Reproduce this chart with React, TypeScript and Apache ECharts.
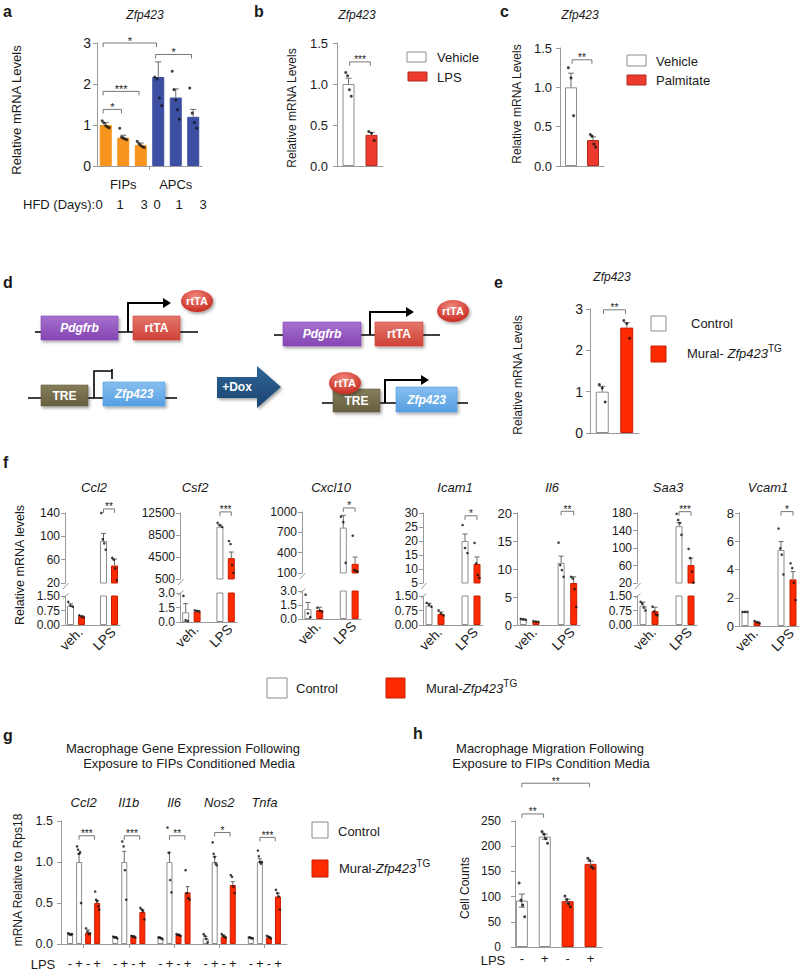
import React, { useEffect, useRef } from 'react';
import * as echarts from 'echarts';

const FONT = '"Liberation Sans", Arial, Helvetica, sans-serif';
const INK = '#1a1a1a';
const AXIS = '#9a9a9a';
const WHITE = '#ffffff';
const WHITE_EDGE = '#8c8c8c';
const RED = '#ff2a00';
const RED_EDGE = '#c81e00';
const RED_BC = '#ec3b2e';
const RED_BC_EDGE = '#b52a20';
const ORANGE = '#f7941d';
const BLUE = '#3d4fa2';
const ERR = '#6a6a6a';

// ===== Panel a =====
const aGroupLabels = ['FIPs', 'APCs'];
const aDayLabels = ['0', '1', '3', '0', '1', '3'];
const aMeans = [1.0, 0.69, 0.51, 2.17, 1.67, 1.2];
const aErrs = [0.06, 0.06, 0.05, 0.37, 0.21, 0.18];
const aDots = [
  [1.1, 1.05, 0.98, 0.95, 0.93],
  [0.92, 0.7, 0.68, 0.66, 0.64],
  [0.6, 0.54, 0.5, 0.47, 0.45],
  [2.17, 2.12, 1.66, 1.47],
  [2.31, 1.86, 1.61, 1.37, 1.14],
  [1.9, 1.29, 1.06, 0.92],
];
const aYTicks = ['0', '1', '2', '3'];
const aSig: [number, number, number, string][] = [
  [0, 3, 3.0, '*'],
  [3, 5, 2.72, '*'],
  [0, 2, 1.82, '***'],
  [0, 1, 1.38, '*'],
];

// ===== Panel b =====
const bLegend = ['Vehicle', 'LPS'];
const bMeans = [1.0, 0.38];
const bErrs = [0.07, 0.03];
const bDots = [[1.14, 1.1, 0.93, 0.85], [0.42, 0.4, 0.31]];
const bYTicks = ['0.0', '0.5', '1.0', '1.5'];
const bSig: [number, number, number, string] = [0, 1, 1.27, '***'];

// ===== Panel c =====
const cLegend = ['Vehicle', 'Palmitate'];
const cMeans = [1.0, 0.33];
const cErrs = [0.18, 0.04];
const cDots = [[1.25, 1.12, 0.64], [0.4, 0.38, 0.28, 0.24]];
const cYTicks = ['0.0', '0.5', '1.0', '1.5'];
const cSig: [number, number, number, string] = [0, 1, 1.35, '**'];

// ===== Panel e =====
const eMeans = [1.0, 2.55];
const eErrs = [0.13, 0.12];
const eDots = [[1.17, 1.09, 0.75], [2.72, 2.65, 2.29]];
const eYTicks = ['0', '1', '2', '3'];
const eSig: [number, number, number, string] = [0, 1, 2.98, '**'];

// ===== Panel f =====
const fGenes = ['Ccl2', 'Csf2', 'Cxcl10', 'Icam1', 'Il6', 'Saa3', 'Vcam1'];
const fConditions = ['veh.', 'LPS'];
// order: veh control, veh TG, LPS control, LPS TG
const fMeans = [
  [1.0, 0.45, 92, 50],
  [1.0, 1.07, 10000, 4300],
  [1.07, 0.96, 770, 235],
  [1.0, 0.57, 20, 11.8],
  [1.0, 0.6, 11.1, 7.5],
  [1.0, 0.72, 150, 61],
  [1.0, 0.27, 5.38, 3.3],
];
const fErrs = [
  [0.1, 0.04, 13, 11],
  [0.9, 0.1, 300, 1100],
  [0.7, 0.3, 180, 100],
  [0.12, 0.1, 2.5, 2.5],
  [0.1, 0.05, 1.2, 1.1],
  [0.18, 0.2, 8, 16],
  [0, 0.06, 0.6, 0.55],
];
const fDots = [
  [[1.2, 1.0, 0.95], [0.5, 0.42, 0.4], [140, 95, 88, 77], [63, 60, 45, 25]],
  [[2.7, 0.2, 0.1], [1.2, 1.15, 1.1], [10700, 10300, 9950], [7400, 6860, 3050, 1600]],
  [[2.6, 0.6, 0.2], [1.2, 0.9, 0.8], [930, 850, 250], [650, 145, 130, 120]],
  [[1.15, 1.05, 0.95], [0.75, 0.6, 0.5], [25.7, 17.5, 15.7], [19.3, 12, 7.9, 6.8]],
  [[1.1, 1.0, 0.9], [0.7, 0.6, 0.55], [14.7, 10.7, 9.8, 8.6], [8.6, 8.3, 6.4, 3.2]],
  [[1.2, 1.1, 0.9, 0.75], [0.95, 0.7, 0.55, 0.5], [178, 164, 157, 130], [98, 77, 46, 21]],
  [[1.0, 1.0, 1.0], [0.35, 0.25, 0.2], [6.9, 5.5, 5.05, 3.65], [4.44, 4.1, 3.07, 1.84]],
];
const fLowTicks: (string[] | null)[] = [
  ['0.00', '0.75', '1.50'],
  ['0.0', '1.5', '3.0'],
  ['0.0', '1.5', '3.0'],
  ['0.00', '0.75', '1.50'],
  null,
  ['0.00', '0.75', '1.50'],
  null,
];
const fHighTicks = [
  ['20', '60', '100', '140'],
  ['500', '4500', '8500', '12500'],
  ['100', '400', '700', '1000'],
  ['5', '10', '15', '20', '25', '30'],
  ['0', '5', '10', '15', '20'],
  ['20', '60', '100', '140', '180'],
  ['0', '2', '4', '6', '8'],
];
const fSig = ['**', '***', '*', '*', '**', '***', '*'];
const fSigY = [147, 12700, 1060, 29, 20.3, 183, 8.1];

// ===== Panel g =====
const gGenes = ['Ccl2', 'Il1b', 'Il6', 'Nos2', 'Tnfa'];
const gLps = ['-', '+', '-', '+'];
const gMeans = [
  [0.12, 1.0, 0.14, 0.5],
  [0.08, 1.0, 0.09, 0.39],
  [0.07, 1.0, 0.11, 0.63],
  [0.07, 1.0, 0.09, 0.72],
  [0.07, 1.0, 0.08, 0.58],
];
const gErrs = [
  [0.01, 0.1, 0.03, 0.03],
  [0.01, 0.13, 0.01, 0.03],
  [0.01, 0.12, 0.01, 0.07],
  [0.02, 0.07, 0.02, 0.04],
  [0.01, 0.04, 0.01, 0.04],
];
const gDots = [
  [[0.13, 0.12, 0.11, 0.12], [1.19, 1.15, 1.1, 1.12, 0.5], [0.19, 0.15, 0.12, 0.13], [0.64, 0.54, 0.52, 0.46, 0.42]],
  [[0.09, 0.08, 0.08, 0.07], [1.25, 1.19, 0.9, 0.54], [0.1, 0.09, 0.09, 0.08], [0.44, 0.42, 0.4, 0.3]],
  [[0.08, 0.08, 0.07, 0.06], [1.42, 1.11, 0.78, 0.63], [0.12, 0.11, 0.11, 0.1], [0.9, 0.62, 0.56, 0.54]],
  [[0.12, 0.1, 0.06, 0.02], [1.24, 1.1, 1.06, 0.98, 0.96], [0.12, 0.1, 0.09, 0.08], [0.84, 0.82, 0.7, 0.62]],
  [[0.08, 0.08, 0.07, 0.07], [1.14, 1.07, 1.0, 0.98, 1.0], [0.1, 0.09, 0.08, 0.07], [0.66, 0.62, 0.58, 0.42]],
];
const gYTicks = ['0.0', '0.5', '1.0', '1.5'];
const gSig = ['***', '***', '**', '*', '***'];
const gSigY = [1.32, 1.32, 1.32, 1.36, 1.3];

// ===== Panel h =====
const hLps = ['-', '+', '-', '+'];
const hMeans = [92, 219, 91, 165];
const hErrs = [13, 5, 4, 5];
const hDots = [[127, 93, 83, 60], [229, 224, 215, 206], [101, 94, 86, 80], [176, 172, 159, 156]];
const hYTicks = ['0', '50', '100', '150', '200', '250'];
const hSig: [number, number, number, string][] = [
  [0, 1, 264, '**'],
  [0, 3, 325, '**'],
];

const legendCtrl = 'Control';

function lab(nums: number[], labels: string[], v: number) {
  const i = nums.findIndex((t) => Math.abs(t - v) < 1e-6);
  return i >= 0 ? labels[i] : '';
}

function spreadOffsets(n: number, spread: number) {
  const out: number[] = [];
  for (let j = 0; j < n; j++) out.push(n > 1 ? -spread + (2 * spread * j) / (n - 1) : 0);
  return out;
}

function buildOption() {
  const grid: any[] = [];
  const xAxis: any[] = [];
  const yAxis: any[] = [];
  const series: any[] = [];
  const g: any[] = [];

  function addGrid(p: any) {
    const gi = grid.length;
    grid.push({ left: p.left, top: p.top, width: p.right - p.left, height: p.bottom - p.top });
    const yNums = p.yLabels.map(Number);
    yAxis.push({
      gridIndex: gi, type: 'value', min: p.yMin, max: p.yMax,
      splitLine: { show: false },
      axisLine: { show: true, onZero: false, lineStyle: { color: AXIS, width: 1 } },
      axisTick: { show: true, length: 4, customValues: yNums, lineStyle: { color: AXIS } },
      axisLabel: {
        customValues: yNums, formatter: (v: number) => lab(yNums, p.yLabels, v),
        color: INK, fontSize: p.yFont ?? 13, fontFamily: FONT, margin: p.yMargin ?? 7,
        ...(p.yLineHeight ? { lineHeight: p.yLineHeight } : {}),
      },
    });
    xAxis.push({
      gridIndex: gi, type: 'value', min: p.xMin, max: p.xMax, show: p.showX !== false,
      splitLine: { show: false },
      axisLine: { show: true, onZero: false, lineStyle: { color: AXIS, width: 1 } },
      axisTick: p.xTickVals ? { show: true, customValues: p.xTickVals, length: 4, lineStyle: { color: AXIS } } : { show: false },
      axisLabel: p.xLabelVals
        ? { show: true, customValues: p.xLabelVals, formatter: p.xLabelText, color: INK, fontSize: 13, fontFamily: FONT, ...(p.xLabelOpts || {}) }
        : { show: false },
    });
    return gi;
  }

  function addBars(gi: number, items: any[], barWidth: number) {
    series.push({
      type: 'bar', xAxisIndex: gi, yAxisIndex: gi, barWidth, silent: true, clip: true, z: 2,
      data: items.map((it) => ({ value: [it.x, it.v], itemStyle: { color: it.fill, borderColor: it.stroke, borderWidth: 1 } })),
    });
  }

  function addErrs(gi: number, items: any[], cap: number, both = false) {
    const list = items.filter((it) => it.e > 0);
    if (!list.length) return;
    series.push({
      type: 'custom', xAxisIndex: gi, yAxisIndex: gi, silent: true, z: 3, clip: false,
      itemStyle: { color: ERR },
      data: list.map((it) => [it.x, it.v, it.e]),
      renderItem: (params: any, api: any) => {
        const x = api.value(0), v = api.value(1), e = api.value(2);
        const top = api.coord([x, v + e]);
        const bot = api.coord([x, both ? v - e : v]);
        const st = { stroke: ERR, lineWidth: 1 };
        const children: any[] = [
          { type: 'line', shape: { x1: top[0], y1: top[1], x2: bot[0], y2: bot[1] }, style: st },
          { type: 'line', shape: { x1: top[0] - cap, y1: top[1], x2: top[0] + cap, y2: top[1] }, style: st },
        ];
        if (both) children.push({ type: 'line', shape: { x1: bot[0] - cap, y1: bot[1], x2: bot[0] + cap, y2: bot[1] }, style: st });
        return { type: 'group', children };
      },
    });
  }

  function addDots(gi: number, pts: number[][], size = 3) {
    if (!pts.length) return;
    series.push({
      type: 'scatter', xAxisIndex: gi, yAxisIndex: gi, silent: true, z: 4, symbolSize: size,
      itemStyle: { color: '#111' }, data: pts,
    });
  }

  function addBrackets(gi: number, list: [number, number, number, string][], fontSize = 11) {
    series.push({
      type: 'custom', xAxisIndex: gi, yAxisIndex: gi, silent: true, z: 5, clip: false,
      itemStyle: { color: INK },
      data: list.map((b) => [b[0], b[1], b[2]]),
      renderItem: (params: any, api: any) => {
        const p1 = api.coord([api.value(0), api.value(2)]);
        const p2 = api.coord([api.value(1), api.value(2)]);
        const leg = 4;
        return {
          type: 'group',
          children: [
            { type: 'polyline', shape: { points: [[p1[0], p1[1] + leg], [p1[0], p1[1]], [p2[0], p2[1]], [p2[0], p2[1] + leg]] }, style: { stroke: '#777', lineWidth: 1, fill: 'none' } },
            { type: 'text', x: (p1[0] + p2[0]) / 2, y: p1[1] - 2, style: { text: list[params.dataIndex][3], fontSize, fontFamily: FONT, fill: INK, align: 'center', verticalAlign: 'middle' } },
          ],
        };
      },
    });
  }

  function addLabels(gi: number, items: { x: number; y: number; text: string }[], dy: number, style: any) {
    series.push({
      type: 'custom', xAxisIndex: gi, yAxisIndex: gi, silent: true, z: 5, clip: false,
      itemStyle: { color: INK },
      data: items.map((it) => [it.x, it.y]),
      renderItem: (params: any, api: any) => {
        const p = api.coord([api.value(0), api.value(1)]);
        return { type: 'text', x: p[0], y: p[1] + dy, style: { ...style, text: items[params.dataIndex].text } };
      },
    });
  }

  const text = (x: number, y: number, t: string, o: any = {}) =>
    g.push({ type: 'text', x, y, silent: true, style: { text: t, fontSize: o.fontSize ?? 13, fontFamily: FONT, fill: o.fill ?? INK, fontStyle: o.fontStyle ?? 'normal', fontWeight: o.fontWeight ?? 'normal', align: o.align ?? 'left', verticalAlign: o.verticalAlign ?? 'middle' } });
  const vtext = (x: number, y: number, t: string, fontSize: number) =>
    g.push({ type: 'text', x, y, rotation: Math.PI / 2, silent: true, style: { text: t, fontSize, fontFamily: FONT, fill: INK, align: 'center', verticalAlign: 'middle' } });
  const box = (x: number, y: number, w: number, h: number, fill: string, stroke: string) =>
    g.push({ type: 'rect', silent: true, shape: { x, y, width: w, height: h }, style: { fill, stroke, lineWidth: 1 } });
  const richTG = (space: boolean) => ({
    text: `{n|Mural-${space ? ' ' : ''}}{i|Zfp423}{s|TG}`,
    rich: {
      n: { fontSize: 13, fontFamily: FONT, fill: INK, color: INK },
      i: { fontSize: 13, fontFamily: FONT, fontStyle: 'italic', fill: INK, color: INK },
      s: { fontSize: 10, fontFamily: FONT, fill: INK, color: INK, padding: [0, 0, 9, 0] },
    },
  });
  const richText = (x: number, y: number, space: boolean) =>
    g.push({ type: 'text', x, y, silent: true, style: { ...richTG(space), align: 'left', verticalAlign: 'middle' } });

  // panel letters
  [['a', 3, 11], ['b', 254, 11], ['c', 500, 11], ['d', 3, 282], ['e', 494, 282], ['f', 3, 462], ['g', 3, 735], ['h', 413, 733]].forEach((l: any) =>
    text(l[1], l[2], l[0], { fontSize: 16, fontWeight: 'bold' }));

  // ================= Panel a =================
  const aX = aMeans.map((_, i) => i + 0.5);
  const gA = addGrid({
    left: 97, top: 43, right: 202, bottom: 166, xMin: 0, xMax: 6, yMin: 0, yMax: 3, yLabels: aYTicks, yFont: 14, yMargin: 6,
    xLabelVals: [1.5, 4.5], xLabelText: (v: number) => aGroupLabels[v < 3 ? 0 : 1], xTickVals: [3], xLabelOpts: { margin: 12 },
  });
  const aCol = aMeans.map((_, i) => (i < 3 ? ORANGE : BLUE));
  addBars(gA, aX.map((x, i) => ({ x, v: aMeans[i], fill: aCol[i], stroke: aCol[i] })), 12);
  addErrs(gA, aX.map((x, i) => ({ x, v: aMeans[i], e: aErrs[i] })), 3);
  const aPts: number[][] = [];
  aDots.forEach((d, i) => spreadOffsets(d.length, 0.2).forEach((o, j) => aPts.push([aX[i] + o, d[j]])));
  addDots(gA, aPts);
  addBrackets(gA, aSig.map((s) => [aX[s[0]] - 0.15, aX[s[1]] - 0.1, s[2], s[3]] as [number, number, number, string]));
  text(145, 15, 'Zfp423', { fontSize: 12, fontStyle: 'italic', align: 'center' });
  vtext(16, 110, 'Relative mRNA Levels', 13);
  text(23, 204, 'HFD (Days):', { fontSize: 13 });
  const dayPx = [99, 120, 144, 157, 179, 203];
  aDayLabels.forEach((d, i) => text(dayPx[i], 204, d, { fontSize: 13, align: 'center' }));

  // ================= Panels b, c, e (two-bar) =================
  function twoBar(opts: any) {
    const xs = [0.5, 1.5];
    const gi = addGrid({
      left: opts.left, top: opts.top, right: opts.right, bottom: opts.bottom, xMin: 0, xMax: 2, yMin: 0,
      yMax: Number(opts.ticks[opts.ticks.length - 1]), yLabels: opts.ticks, yFont: opts.yFont ?? 13, yMargin: opts.yMargin,
    });
    addBars(gi, xs.map((x, i) => ({ x, v: opts.means[i], fill: i ? opts.red : WHITE, stroke: i ? opts.redEdge : WHITE_EDGE })), opts.bw);
    addErrs(gi, xs.map((x, i) => ({ x, v: opts.means[i], e: opts.errs[i] })), 3);
    const pts: number[][] = [];
    opts.dots.forEach((d: number[], i: number) => spreadOffsets(d.length, 0.12).forEach((o, j) => pts.push([xs[i] + o, d[j]])));
    addDots(gi, pts);
    const s = opts.sig;
    addBrackets(gi, [[xs[s[0]] + 0.05, xs[s[1]] - 0.05, s[2], s[3]]], 10);
  }
  twoBar({ left: 337, top: 43, right: 383, bottom: 166, ticks: bYTicks, means: bMeans, errs: bErrs, dots: bDots, sig: bSig, red: RED_BC, redEdge: RED_BC_EDGE, bw: 12, yMargin: 9 });
  text(357, 15, 'Zfp423', { fontSize: 12, fontStyle: 'italic', align: 'center' });
  vtext(292, 108, 'Relative mRNA Levels', 12);
  box(407, 52, 19, 10, WHITE, WHITE_EDGE);
  box(408, 72, 19, 9, RED_BC, RED_BC_EDGE);
  text(437, 57, bLegend[0]);
  text(437, 77, bLegend[1]);

  twoBar({ left: 560, top: 48, right: 604, bottom: 166, ticks: cYTicks, means: cMeans, errs: cErrs, dots: cDots, sig: cSig, red: RED_BC, redEdge: RED_BC_EDGE, bw: 12, yMargin: 8 });
  text(580, 15, 'Zfp423', { fontSize: 12, fontStyle: 'italic', align: 'center' });
  vtext(517, 104, 'Relative mRNA Levels', 12);
  box(627, 55, 19, 11, WHITE, WHITE_EDGE);
  box(627, 75, 19, 10, RED_BC, RED_BC_EDGE);
  text(656, 61, cLegend[0]);
  text(656, 80, cLegend[1]);

  twoBar({ left: 590, top: 309, right: 639, bottom: 433, ticks: eYTicks, means: eMeans, errs: eErrs, dots: eDots, sig: eSig, red: RED, redEdge: RED_EDGE, bw: 13, yFont: 14, yMargin: 7 });
  text(612, 277, 'Zfp423', { fontSize: 12, fontStyle: 'italic', align: 'center' });
  vtext(518, 375, 'Relative mRNA Levels', 12);
  box(651, 316, 15, 15, WHITE, WHITE_EDGE);
  box(651, 346, 15, 16, RED, RED_EDGE);
  text(691, 323, legendCtrl);
  richText(687, 353, true);

  // ================= Panel d (diagram) =================
  const grad = (top: string, bottom: string) =>
    new echarts.graphic.LinearGradient(0, 0, 0, 1, [{ offset: 0, color: top }, { offset: 1, color: bottom }]);
  const shadow = { shadowBlur: 3, shadowOffsetX: 1.5, shadowOffsetY: 2, shadowColor: 'rgba(0,0,0,0.35)' };
  const hline = (x1: number, x2: number, y: number) =>
    g.push({ type: 'line', silent: true, shape: { x1, y1: y, x2, y2: y }, style: { stroke: '#000', lineWidth: 1.5 } });
  const gene = (x: number, y: number, w: number, h: number, c1: string, c2: string, t: string, italic: boolean) => {
    g.push({ type: 'rect', silent: true, shape: { x, y, width: w, height: h }, style: { fill: grad(c1, c2), stroke: c2, lineWidth: 0.6, ...shadow } });
    text(x + w / 2, y + h / 2, t, { fontSize: 12, fontWeight: 'bold', fontStyle: italic ? 'italic' : 'normal', align: 'center', fill: '#ffffff' });
  };
  const promoter = (x0: number, yBase: number, yTop: number, xEnd: number) => {
    g.push({ type: 'polyline', silent: true, shape: { points: [[x0, yBase], [x0, yTop], [xEnd - 5, yTop]] }, style: { stroke: '#000', lineWidth: 2, fill: 'none' } });
    g.push({ type: 'polygon', silent: true, shape: { points: [[xEnd - 7, yTop - 5], [xEnd + 1, yTop], [xEnd - 7, yTop + 5]] }, style: { fill: '#000' } });
  };
  const rtta = (cx: number, cy: number) => {
    g.push({ type: 'ellipse', silent: true, shape: { cx, cy, rx: 16, ry: 11 }, style: { fill: new echarts.graphic.RadialGradient(0.45, 0.3, 0.75, [{ offset: 0, color: '#f2857a' }, { offset: 1, color: '#c4261c' }]), ...shadow } });
    text(cx, cy, 'rtTA', { fontSize: 11, fontWeight: 'bold', align: 'center', fill: '#ffffff' });
  };
  const PUR = ['#a671cf', '#8545b2'];
  const RTR = ['#e4766c', '#cf4136'];
  const TRE = ['#857d59', '#676040'];
  const ZFP = ['#86bff0', '#569fe2'];
  // top left
  hline(35, 198, 332);
  gene(41, 316, 77, 24, PUR[0], PUR[1], 'Pdgfrb', true);
  gene(133, 316, 47, 24, RTR[0], RTR[1], 'rtTA', false);
  promoter(128, 332, 303, 170);
  rtta(197, 301);
  // bottom left
  hline(28, 177, 398);
  gene(41, 385, 47, 21, TRE[0], TRE[1], 'TRE', false);
  gene(103, 382, 62, 24, ZFP[0], ZFP[1], 'Zfp423', true);
  g.push({ type: 'polyline', silent: true, shape: { points: [[94, 398], [94, 371], [112, 371]] }, style: { stroke: '#000', lineWidth: 1.6, fill: 'none' } });
  g.push({ type: 'line', silent: true, shape: { x1: 112, y1: 369, x2: 112, y2: 379 }, style: { stroke: '#000', lineWidth: 1.6 } });
  // +Dox arrow
  g.push({ type: 'polygon', silent: true, shape: { points: [[217, 377], [257, 377], [257, 366], [281, 387], [257, 408], [257, 398], [217, 398]] }, style: { fill: grad('#2e6597', '#1a4470'), ...shadow } });
  text(237, 387, '+Dox', { fontSize: 12, fontWeight: 'bold', align: 'center', fill: '#ffffff' });
  // top right
  hline(274, 440, 335);
  gene(283, 322, 78, 24, PUR[0], PUR[1], 'Pdgfrb', true);
  gene(375, 322, 48, 24, RTR[0], RTR[1], 'rtTA', false);
  promoter(370, 335, 312, 413);
  rtta(453, 311);
  // bottom right
  hline(322, 468, 403);
  gene(333, 389, 47, 23, TRE[0], TRE[1], 'TRE', false);
  gene(396, 387, 61, 25, ZFP[0], ZFP[1], 'Zfp423', true);
  promoter(385, 403, 380, 428);
  rtta(345, 383);

  // ================= Panel f =================
  const fLayout = [
    { x0: 65, x1: 120, uTop: 513, uBot: 583, lTop: 596, lBot: 625, tx: 94 },
    { x0: 180, x1: 237, uTop: 513, uBot: 579, lTop: 593, lBot: 622, tx: 195 },
    { x0: 302, x1: 361, uTop: 512, uBot: 573, lTop: 591, lBot: 619, tx: 331 },
    { x0: 423, x1: 483, uTop: 513, uBot: 583, lTop: 596, lBot: 625, tx: 455 },
    { x0: 517, x1: 580, uTop: 513, uBot: 625, tx: 552 },
    { x0: 637, x1: 697, uTop: 513, uBot: 583, lTop: 596, lBot: 625, tx: 668 },
    { x0: 739, x1: 799, uTop: 513, uBot: 626, tx: 768 },
  ];
  const fX = [0.5, 1.5, 3.5, 4.5];
  const fFill = [WHITE, RED, WHITE, RED];
  const fEdge = [WHITE_EDGE, RED_EDGE, WHITE_EDGE, RED_EDGE];
  const F_TICK = 12;
  const fXLabels = {
    xLabelVals: [1.4, 4.4],
    xLabelText: (v: number) => fConditions[v < 2.5 ? 0 : 1],
    xLabelOpts: { rotate: 45, margin: 5, fontSize: 13.5 },
  };
  fGenes.forEach((geneName, k) => {
    const L: any = fLayout[k];
    const low = fLowTicks[k];
    const high = fHighTicks[k];
    const hiNums = high.map(Number);
    const dotsOf = (i: number) => spreadOffsets(fDots[k][i].length, 0.2).map((o, j) => [fX[i] + o, fDots[k][i][j]]);
    if (low) {
      const lowMax = Number(low[low.length - 1]);
      const gl = addGrid({ left: L.x0, right: L.x1, top: L.lTop, bottom: L.lBot, xMin: 0, xMax: 5, yMin: 0, yMax: lowMax, yLabels: low, yFont: F_TICK, yLineHeight: 11, yMargin: 5, ...fXLabels });
      const gu = addGrid({ left: L.x0, right: L.x1, top: L.uTop, bottom: L.uBot, xMin: 0, xMax: 5, yMin: hiNums[0], yMax: hiNums[hiNums.length - 1], yLabels: high, yFont: F_TICK, yLineHeight: 11, yMargin: 5, showX: false });
      addBars(gl, fX.map((x, i) => ({ x, v: fMeans[k][i], fill: fFill[i], stroke: fEdge[i] })), 7);
      addBars(gu, [2, 3].map((i) => ({ x: fX[i], v: fMeans[k][i], fill: fFill[i], stroke: fEdge[i] })), 7);
      const errItems = fX.map((x, i) => ({ x, v: fMeans[k][i], e: fErrs[k][i] }));
      addErrs(gl, errItems.filter((it) => it.v <= lowMax), 2.5);
      addErrs(gu, errItems.filter((it) => it.v > lowMax), 2.5);
      const all: number[][] = [];
      fX.forEach((_, i) => dotsOf(i).forEach((p) => all.push(p)));
      addDots(gl, all.filter((p) => p[1] <= lowMax), 2.6);
      addDots(gu, all.filter((p) => p[1] > lowMax), 2.6);
      addBrackets(gu, [[3.5, 4.5, fSigY[k], fSig[k]]], 10);
      // axis break marks
      g.push({ type: 'line', silent: true, shape: { x1: L.x0 - 2, y1: L.uBot + 6, x2: L.x0 + 3.5, y2: L.uBot }, style: { stroke: AXIS, lineWidth: 1 } });
      g.push({ type: 'line', silent: true, shape: { x1: L.x0 - 2, y1: L.lTop + 2.5, x2: L.x0 + 3.5, y2: L.lTop - 2.5 }, style: { stroke: AXIS, lineWidth: 1 } });
    } else {
      const gs = addGrid({ left: L.x0, right: L.x1, top: L.uTop, bottom: L.uBot, xMin: 0, xMax: 5, yMin: hiNums[0], yMax: hiNums[hiNums.length - 1], yLabels: high, yFont: F_TICK + 1, yMargin: 5, ...fXLabels });
      addBars(gs, fX.map((x, i) => ({ x, v: fMeans[k][i], fill: fFill[i], stroke: fEdge[i] })), 7);
      addErrs(gs, fX.map((x, i) => ({ x, v: fMeans[k][i], e: fErrs[k][i] })), 2.5);
      const all: number[][] = [];
      fX.forEach((_, i) => dotsOf(i).forEach((p) => all.push(p)));
      addDots(gs, all, 2.6);
      addBrackets(gs, [[3.5, 4.5, fSigY[k], fSig[k]]], 10);
    }
    text(L.tx, 487, geneName, { fontSize: 13, fontStyle: 'italic', align: 'center' });
  });
  vtext(20, 565, 'Relative mRNA levels', 12.5);
  box(267, 678, 20, 20, WHITE, WHITE_EDGE);
  text(296, 688, legendCtrl);
  box(386, 678, 19, 20, RED, RED_EDGE);
  richText(426, 688, false);

  // ================= Panel g =================
  const gBarX = (gi: number, k: number) => 1 + 5 * gi + k;
  const gAllX: number[] = [];
  gGenes.forEach((_, gi) => gLps.forEach((__, k) => gAllX.push(gBarX(gi, k))));
  const gG = addGrid({
    left: 61, top: 821, right: 287, bottom: 944, xMin: 0, xMax: 25, yMin: 0, yMax: 1.5, yLabels: gYTicks, yFont: 12.5, yMargin: 8,
    xTickVals: gGenes.map((_, gi) => 2.5 + 5 * gi), xLabelVals: gAllX,
    xLabelText: (v: number) => gLps[(Math.round(v) - 1) % 5], xLabelOpts: { margin: 13, fontSize: 13 },
  });
  const gItems: any[] = [];
  const gPts: number[][] = [];
  gGenes.forEach((_, gi) => gLps.forEach((__, k) => {
    const x = gBarX(gi, k);
    gItems.push({ x, v: gMeans[gi][k], e: gErrs[gi][k], fill: k < 2 ? WHITE : RED, stroke: k < 2 ? WHITE_EDGE : RED_EDGE });
    spreadOffsets(gDots[gi][k].length, 0.22).forEach((o, j) => gPts.push([x + o, gDots[gi][k][j]]));
  }));
  addBars(gG, gItems, 6);
  addErrs(gG, gItems, 2);
  addDots(gG, gPts, 2.6);
  addBrackets(gG, gGenes.map((_, gi) => [gBarX(gi, 1), gBarX(gi, 3) - 0.3, gSigY[gi], gSig[gi]] as [number, number, number, string]), 10);
  addLabels(gG, gGenes.map((t, gi) => ({ x: 2.5 + 5 * gi, y: 1.5, text: t })), -19, { fontSize: 13, fontStyle: 'italic', fontFamily: FONT, fill: INK, align: 'center', verticalAlign: 'middle' });
  text(183, 748, 'Macrophage Gene Expression Following', { fontSize: 13, align: 'center' });
  text(189, 763, 'Exposure to FIPs Conditioned Media', { fontSize: 13, align: 'center' });
  vtext(18, 880, 'mRNA Relative to Rps18', 12);
  text(43, 964, 'LPS', { fontSize: 13, align: 'center' });
  box(312, 822, 16, 16, WHITE, WHITE_EDGE);
  text(338, 831, legendCtrl);
  box(312, 860, 16, 17, RED, RED_EDGE);
  richText(339, 868, false);

  // ================= Panel h =================
  const hX = hMeans.map((_, i) => 0.3 + i);
  const gH = addGrid({
    left: 515, top: 821, right: 602, bottom: 947, xMin: 0, xMax: 3.8, yMin: 0, yMax: 250, yLabels: hYTicks, yFont: 12, yMargin: 14,
    xLabelVals: hX, xLabelText: (v: number) => hLps[Math.round(v - 0.3)], xLabelOpts: { margin: 5, fontSize: 13 },
  });
  addBars(gH, hX.map((x, i) => ({ x, v: hMeans[i], fill: i < 2 ? WHITE : RED, stroke: i < 2 ? WHITE_EDGE : RED_EDGE })), 12);
  addErrs(gH, hX.map((x, i) => ({ x, v: hMeans[i], e: hErrs[i] })), 3, true);
  const hPts: number[][] = [];
  hDots.forEach((d, i) => spreadOffsets(d.length, 0.12).forEach((o, j) => hPts.push([hX[i] + o, d[j]])));
  addDots(gH, hPts);
  addBrackets(gH, hSig.map((s) => [hX[s[0]], hX[s[1]] - 0.05, s[2], s[3]] as [number, number, number, string]), 10);
  text(550, 748, 'Macrophage Migration Following', { fontSize: 13, align: 'center' });
  text(551, 763, 'Exposure to FIPs Condition Media', { fontSize: 13, align: 'center' });
  vtext(465, 888, 'Cell Counts', 12);
  text(493, 960, 'LPS', { fontSize: 13, align: 'center' });

  return {
    animation: false,
    backgroundColor: '#ffffff',
    textStyle: { fontFamily: FONT },
    grid, xAxis, yAxis, series,
    graphic: { elements: g },
  };
}

export default function App() {
  const ref = useRef<HTMLDivElement>(null);
  useEffect(() => {
    if (!ref.current) return;
    const chart = echarts.init(ref.current, undefined, { renderer: 'svg' });
    chart.setOption(buildOption());
    return () => chart.dispose();
  }, []);
  return <div ref={ref} style={{ position: 'absolute', left: 0, top: 0, width: 800, height: 971, background: '#fff' }} />;
}
